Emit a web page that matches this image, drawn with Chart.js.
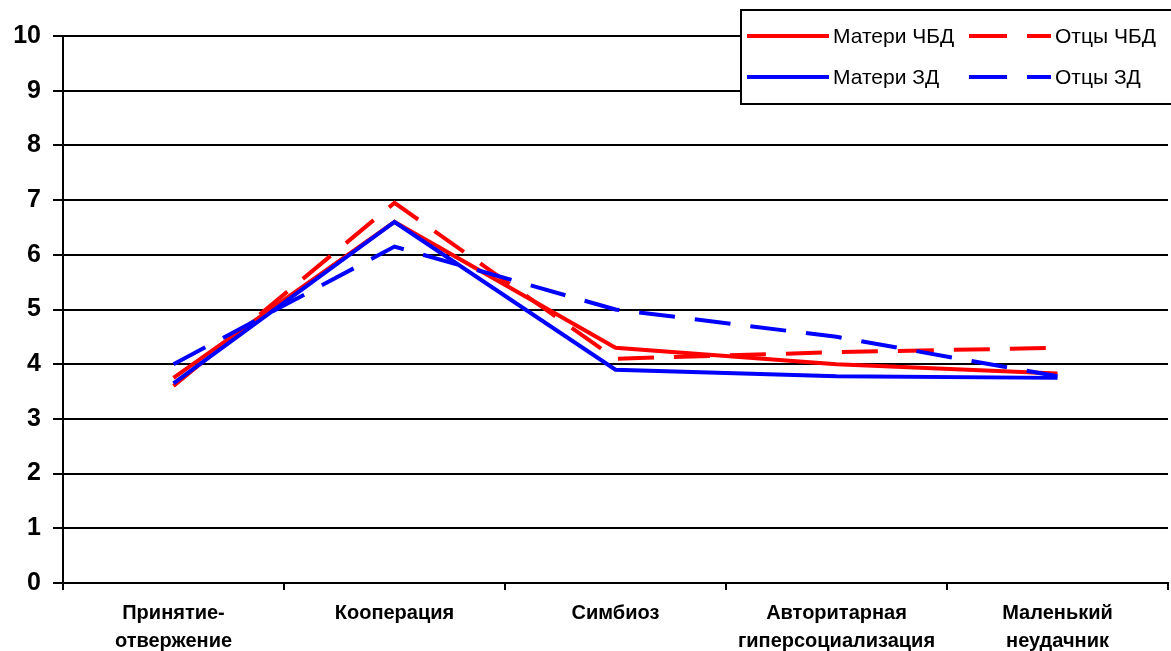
<!DOCTYPE html>
<html>
<head>
<meta charset="utf-8">
<script src="https://cdn.jsdelivr.net/npm/chart.js@4"></script>
<style>
  html, body { margin: 0; padding: 0; background: #fff; }
  #wrap { width: 1171px; height: 651px; }
</style>
</head>
<body>
<div id="wrap"><canvas id="my-chart" width="1171" height="651"></canvas></div>
<script>
const categories = [
  ['Принятие-', 'отвержение'],
  ['Кооперация'],
  ['Симбиоз'],
  ['Авторитарная', 'гиперсоциализация'],
  ['Маленький', 'неудачник']
];
const mothersCBD = [3.75, 6.6, 4.3, 4.0, 3.83];
const fathersCBD = [3.6, 6.95, 4.1, 4.22, 4.3];
const mothersZD = [3.65, 6.6, 3.9, 3.78, 3.75];
const fathersZD = [4.0, 6.15, 5.0, 4.5, 3.78];
const yTicks = [0, 1, 2, 3, 4, 5, 6, 7, 8, 9, 10];

const RED = '#ff0000';
const BLUE = '#0000ff';
const DASH = [36, 20];
const FONT = '"Liberation Sans", Arial, sans-serif';

// legend drawn in a framed box at the top right
const boxLegend = {
  id: 'boxLegend',
  afterDraw(chart) {
    const ctx = chart.ctx;
    ctx.save();
    ctx.fillStyle = '#fff';
    ctx.fillRect(741, 10, 440, 94);
    ctx.strokeStyle = '#000';
    ctx.lineWidth = 2;
    ctx.strokeRect(741, 10, 440, 94);
    const items = [
      { label: 'Матери ЧБД', color: RED, dash: [], x: 747, y: 36 },
      { label: 'Отцы ЧБД', color: RED, dash: [38, 20], x: 969, y: 36 },
      { label: 'Матери ЗД', color: BLUE, dash: [], x: 747, y: 77 },
      { label: 'Отцы ЗД', color: BLUE, dash: [38, 20], x: 969, y: 77 }
    ];
    ctx.font = '21px ' + FONT;
    ctx.textBaseline = 'middle';
    items.forEach(it => {
      ctx.beginPath();
      ctx.setLineDash(it.dash);
      ctx.strokeStyle = it.color;
      ctx.lineWidth = 4;
      ctx.lineCap = 'butt';
      ctx.moveTo(it.x, it.y);
      ctx.lineTo(it.x + 82, it.y);
      ctx.stroke();
      ctx.setLineDash([]);
      ctx.fillStyle = '#000';
      ctx.fillText(it.label, it.x + 86, it.y + 1);
    });
    ctx.restore();
  }
};

function line(label, data, color, dashed, order) {
  return {
    label: label,
    data: data,
    borderColor: color,
    backgroundColor: color,
    borderWidth: 4,
    borderDash: dashed ? DASH : [],
    pointRadius: 0,
    tension: 0,
    fill: false,
    order: order
  };
}

const ctx = document.getElementById('my-chart').getContext('2d');
const chart = new Chart(ctx, {
  type: 'line',
  data: {
    labels: categories,
    datasets: [
      line('Матери ЧБД', mothersCBD, RED, false, 3),
      line('Отцы ЧБД', fathersCBD, RED, true, 2),
      line('Матери ЗД', mothersZD, BLUE, false, 1),
      line('Отцы ЗД', fathersZD, BLUE, true, 0)
    ]
  },
  options: {
    responsive: false,
    animation: false,
    layout: { padding: { top: 36, right: 3, left: 0, bottom: 0 } },
    plugins: {
      legend: { display: false },
      tooltip: { enabled: false }
    },
    scales: {
      x: {
        offset: true,
        grid: {
          offset: true,
          drawOnChartArea: false,
          drawTicks: true,
          tickLength: 7,
          color: '#000',
          lineWidth: 2
        },
        border: { color: '#000', width: 2 },
        ticks: {
          color: '#000',
          padding: 9,
          maxRotation: 0,
          autoSkip: false,
          font: { family: FONT, size: 20, weight: 'bold', lineHeight: 1.4 }
        },
        afterFit(scale) { scale.height = 68; }
      },
      y: {
        min: 0,
        max: 10,
        afterBuildTicks(scale) { scale.ticks = yTicks.map(v => ({ value: v })); },
        grid: {
          color: '#000',
          lineWidth: 2,
          tickLength: 10
        },
        border: { color: '#000', width: 2 },
        ticks: {
          color: '#000',
          padding: 12,
          font: { family: FONT, size: 25, weight: 'bold' }
        },
        afterFit(scale) { scale.width = 63; }
      }
    }
  },
  plugins: [boxLegend]
});
</script>
</body>
</html>
